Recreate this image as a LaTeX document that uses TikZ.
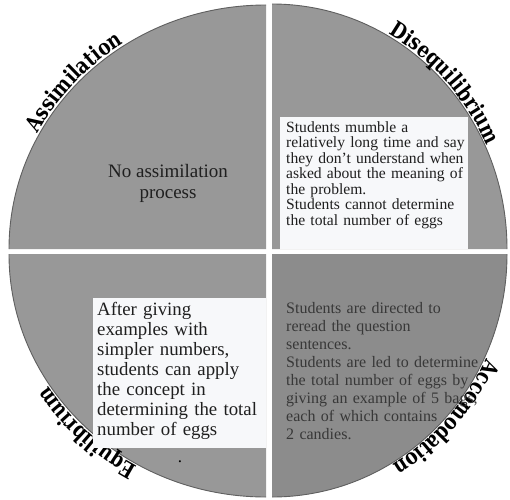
\documentclass[tikz,border=0pt]{standalone}
\usepackage{fontspec}
\setmainfont{Liberation Serif}
\newfontfamily\rimfamily[FakeStretch=0.82]{DejaVu Serif}
\usetikzlibrary{decorations.text}
\definecolor{quad}{RGB}{152,152,152}
\definecolor{quaddark}{RGB}{140,140,140}
\definecolor{rim}{RGB}{95,95,95}
\definecolor{boxwhite}{RGB}{247,248,250}
\newcommand{\rimfont}{\rimfamily\fontsize{22}{22}\selectfont\bfseries}
\tikzset{
  sector/.style={fill=quad},
  rimline/.style={draw=rim,line width=0.9pt},
  textbox/.style={fill=boxwhite},
  body/.style={anchor=north west,inner sep=0pt,align=left,text=black!88},
  rimlabel/.style={decorate,decoration={text along path,text align=center,text={|\rimfont|#1}}}
}
\begin{document}
\begin{tikzpicture}[x=1pt,y=1pt]
\useasboundingbox (0,0) rectangle (510,499);
% four quarters
\fill[sector] (266,250) -- (9,250) arc[start angle=180,end angle=90,x radius=257,y radius=244] -- cycle;
\fill[sector] (272,250) -- (272,495) arc[start angle=90,end angle=0,x radius=235,y radius=245] -- cycle;
\fill[sector] (266,245) -- (9,245) arc[start angle=180,end angle=270,x radius=257,y radius=243] -- cycle;
\fill[quaddark] (272,245) -- (507,245) arc[start angle=0,end angle=-90,x radius=235,y radius=243] -- cycle;
\draw[rimline] (9,250) arc[start angle=180,end angle=90,x radius=257,y radius=244];
\draw[rimline] (272,495) arc[start angle=90,end angle=0,x radius=235,y radius=245];
\draw[rimline] (9,245) arc[start angle=180,end angle=270,x radius=257,y radius=243];
\draw[rimline] (507,245) arc[start angle=0,end angle=-90,x radius=235,y radius=243];
% labels round the rim
\path[rimlabel=Assimilation] (266,250) ++(172:259 and 246) arc[start angle=172,end angle=104,x radius=259,y radius=246];
\path[rimlabel=Disequilibrium] (272,250) ++(78:237 and 247) arc[start angle=78,end angle=8,x radius=237,y radius=247];
\path[rimlabel=Accomodation] (272,245) ++(-8:237 and 245) arc[start angle=-8,end angle=-77,x radius=237,y radius=245];
\path[rimlabel=Equilibrium] (266,245) ++(-100:259 and 245) arc[start angle=-100,end angle=-168,x radius=259,y radius=245];
% texts
\node[inner sep=0pt,align=center,text=black!88,font=\fontsize{19}{21}\selectfont] (assim) at (168,316) {No assimilation\\process};
\fill[textbox] (280,250) rectangle (468,382);
\node[body,text width=200pt,font=\fontsize{15.6}{15.5}\selectfont] (diseq) at (286,378) {Students mumble a\\relatively long time and say\\they don't understand when\\asked about the meaning of\\the problem.\\Students cannot determine\\the total number of eggs};
\node[body,text width=200pt,text=black!78,font=\fontsize{16}{18}\selectfont] (accom) at (286,197) {Students are directed to\\reread the question\\sentences.\\Students are led to determine\\the total number of eggs by\\giving an example of 5 bags,\\each of which contains\\2 candies.};
\fill[textbox] (93,51) rectangle (266,201);
\node[body,text width=170pt,font=\fontsize{18.8}{20}\selectfont] (equil) at (97,197) {After giving\\examples with\\simpler numbers,\\students can apply\\the concept in\\determining the total\\number of eggs};
\node[anchor=base,inner sep=0pt,font=\fontsize{17}{17}\selectfont] (dot) at (180,37) {.};
\end{tikzpicture}
\end{document}
